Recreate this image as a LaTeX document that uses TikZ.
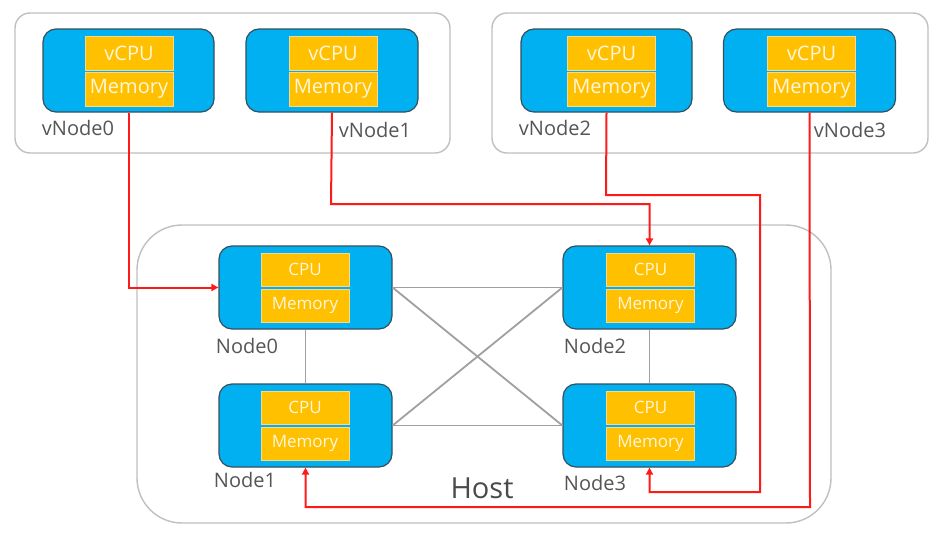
\documentclass[tikz,border=0pt]{standalone}
\usepackage{fontspec}
\setmainfont{Open Sans}
\usetikzlibrary{arrows.meta}
\definecolor{nodeblue}{HTML}{00B0F0}
\definecolor{nodeedge}{HTML}{34505F}
\definecolor{chipyellow}{HTML}{FFC000}
\definecolor{chipedge}{HTML}{FAD98A}
\definecolor{chiptext}{HTML}{FFF6DC}
\definecolor{boxgray}{HTML}{C0C0C0}
\definecolor{linkgray}{HTML}{A0A0A0}
\definecolor{labelgray}{HTML}{555555}
\definecolor{hostgray}{HTML}{4A4A4A}
\definecolor{linkred}{HTML}{FF1A1A}
\tikzset{
  container/.style={draw=boxgray, line width=1.4pt, fill=white},
  numabox/.style={draw=nodeedge, fill=nodeblue, line width=1.2pt, rounded corners=13pt,
    minimum width=#1, minimum height=83pt, inner sep=0pt},
  vchip/.style={fill=chipyellow, draw=chipedge, line width=0.6pt, minimum width=88pt,
    minimum height=34pt, inner sep=0pt, text=chiptext, font=\fontsize{20}{23}\selectfont},
  hchip/.style={fill=chipyellow, draw=chipedge, line width=0.6pt, minimum width=88pt,
    minimum height=33pt, inner sep=0pt, text=chiptext, font=\fontsize{17}{20}\selectfont},
  lbl/.style={text=labelgray, font=\fontsize{20}{23}\selectfont, inner sep=0pt},
  link/.style={draw=linkgray, line width=1.8pt},
  vlink/.style={draw=linkred, line width=2pt, -{Triangle[length=7pt,width=7pt]}},
}
\begin{document}
\begin{tikzpicture}[x=1pt,y=-1pt]
\useasboundingbox (0,0) rectangle (947,533);
% containers
\draw[container, rounded corners=15pt] (15,13) rectangle (450,153);
\draw[container, rounded corners=15pt] (492,13) rectangle (928,153);
\draw[container, rounded corners=45pt] (137,225) rectangle (831,523);
\node[text=hostgray, font=\fontsize{29}{34}\selectfont, inner sep=0pt] (host) at (482,488) {Host};

% virtual nodes
\node[numabox=171pt] (vn0) at (128.5,70.5) {};
\node[numabox=172pt] (vn1) at (332,70.5) {};
\node[numabox=171pt] (vn2) at (606.5,70.5) {};
\node[numabox=172pt] (vn3) at (809.5,70.5) {};
\foreach \n/\x in {0/129,1/333,2/611.5,3/811.5}{
  \node[vchip] (vc\n) at (\x,53) {vCPU};
  \node[vchip] (vm\n) at (\x,89) {Memory};
}
\node[lbl] (vl0) at (78,128) {vNode0};
\node[lbl] (vl1) at (375,130) {vNode1};
\node[lbl] (vl2) at (555,128) {vNode2};
\node[lbl] (vl3) at (850,130) {vNode3};

% host nodes
\node[numabox=173pt] (n0) at (305.5,287.5) {};
\node[numabox=173pt] (n1) at (305.5,425.5) {};
\node[numabox=173pt] (n2) at (649.5,287.5) {};
\node[numabox=173pt] (n3) at (649.5,425.5) {};
\foreach \n/\x/\y in {0/305/287.5,1/305/425.5,2/650.5/287.5,3/650.5/425.5}{
  \node[hchip] (hc\n) at (\x,\y-18) {CPU};
  \node[hchip] (hm\n) at (\x,\y+18) {Memory};
}
\node[lbl] (nl0) at (247,346) {Node0};
\node[lbl] (nl1) at (245,480) {Node1};
\node[lbl] (nl2) at (595,346) {Node2};
\node[lbl] (nl3) at (595,483) {Node3};

% gray interconnect
\draw[link] (n0.east) -- (n2.west);
\draw[link] (n1.east) -- (n3.west);
\draw[link] (n0.east) -- (n3.west);
\draw[link] (n1.east) -- (n2.west);
\draw[link] (n0.south) -- (n1.north);
\draw[link] (n2.south) -- (n3.north);

% red mappings
\draw[vlink] (vn0.south) |- (n0.west);
\draw[vlink] (vn1.south) -- (331,204) -| (n2.north);
\draw[vlink] (vn2.south) -- (606,195) -- (760,195) -- (760,492) -| (n3.south);
\draw[vlink] (vn3.south) -- (810,507) -| (n1.south);
\end{tikzpicture}
\end{document}
